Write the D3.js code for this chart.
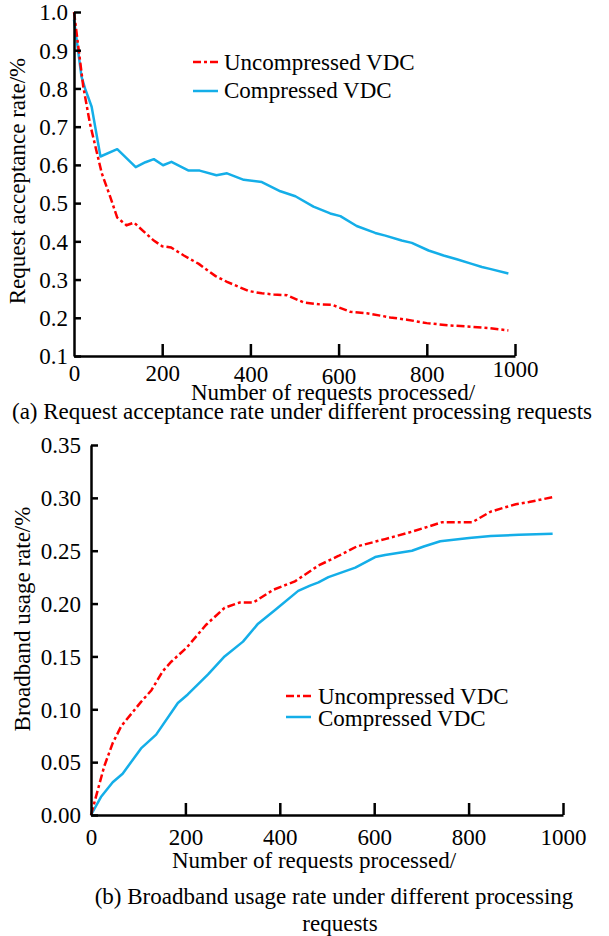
<!DOCTYPE html>
<html>
<head>
<meta charset="utf-8">
<script src="https://cdn.jsdelivr.net/npm/d3@7"></script>
<style>
  html, body { margin: 0; padding: 0; background: #fff; }
  svg { display: block; }
  text { font-family: "Liberation Serif", "Times New Roman", serif; fill: #000; }
</style>
</head>
<body>
<svg id="chart" width="609" height="936"></svg>
<script>
// ---------- DATA ----------
const seriesNames = ["Uncompressed VDC", "Compressed VDC"];

// (a) Request acceptance rate
const aUncompX = [0, 21, 36, 63, 82, 98, 119, 136, 181, 200, 220, 249, 283, 321, 347, 396, 426, 453, 483, 521, 558, 585, 626, 664, 717, 755, 800, 853, 906, 943, 985];
const aUncompY = [1.0, 0.805, 0.709, 0.578, 0.517, 0.462, 0.442, 0.449, 0.402, 0.387, 0.384, 0.363, 0.341, 0.309, 0.294, 0.270, 0.264, 0.261, 0.259, 0.240, 0.235, 0.234, 0.216, 0.212, 0.201, 0.195, 0.186, 0.180, 0.176, 0.173, 0.167];
const aCompX = [0, 17, 25, 40, 60, 98, 140, 162, 181, 202, 221, 260, 285, 323, 347, 385, 426, 468, 502, 543, 581, 604, 641, 683, 706, 743, 766, 804, 838, 868, 902, 925, 943, 985];
const aCompY = [0.98, 0.831, 0.80, 0.752, 0.622, 0.641, 0.594, 0.607, 0.615, 0.599, 0.608, 0.585, 0.585, 0.573, 0.578, 0.561, 0.555, 0.531, 0.518, 0.491, 0.473, 0.466, 0.440, 0.422, 0.415, 0.402, 0.396, 0.376, 0.363, 0.353, 0.341, 0.333, 0.328, 0.316];
const aXTicks = [0, 200, 400, 600, 800, 1000];
const aYTicks = [0.1, 0.2, 0.3, 0.4, 0.5, 0.6, 0.7, 0.8, 0.9, 1.0];

// (b) Broadband usage rate
const bUncompX = [0, 28, 46, 64, 106, 128, 152, 170, 202, 244, 283, 315, 344, 386, 432, 482, 524, 563, 623, 680, 716, 744, 808, 847, 900, 928, 981];
const bUncompY = [0, 0.046, 0.068, 0.084, 0.107, 0.118, 0.136, 0.145, 0.158, 0.180, 0.196, 0.201, 0.201, 0.213, 0.221, 0.236, 0.245, 0.254, 0.261, 0.268, 0.273, 0.277, 0.277, 0.287, 0.294, 0.296, 0.301];
const bCompX = [0, 21, 46, 67, 106, 138, 184, 205, 248, 283, 322, 354, 390, 439, 464, 482, 503, 560, 602, 623, 680, 705, 740, 801, 847, 907, 978];
const bCompY = [0, 0.017, 0.031, 0.039, 0.063, 0.076, 0.106, 0.114, 0.133, 0.150, 0.164, 0.181, 0.194, 0.212, 0.217, 0.220, 0.225, 0.234, 0.244, 0.246, 0.250, 0.254, 0.259, 0.262, 0.264, 0.265, 0.266];
const bXTicks = [0, 200, 400, 600, 800, 1000];
const bYTicks = [0, 0.05, 0.10, 0.15, 0.20, 0.25, 0.30, 0.35];

const xTitle = "Number of requests processed/";
const aYTitle = "Request acceptance rate/%";
const bYTitle = "Broadband usage rate/%";
const aCaption = "(a) Request acceptance rate under different processing requests";
const bCaption1 = "(b) Broadband usage rate under different processing";
const bCaption2 = "requests";

// ---------- STYLE ----------
const RED = "#ff0000", BLUE = "#14aee8";
const DASH = "8,3,3,3";
const FS = 23;
const svg = d3.select("#chart");

function pairs(xs, ys) { return xs.map((x, i) => [x, ys[i]]); }

function drawPanel(cfg) {
  const g = svg.append("g");
  const x = d3.scaleLinear().domain([0, 1000]).range([cfg.x0, cfg.x1]);
  const y = d3.scaleLinear().domain(cfg.yDomain).range([cfg.yBottom, cfg.yTop]);

  const line = d3.line().x(d => x(d[0])).y(d => y(d[1]));
  g.append("path").datum(pairs(cfg.compX, cfg.compY))
    .attr("d", line).attr("fill", "none").attr("stroke", BLUE)
    .attr("stroke-width", 2.5).attr("stroke-linejoin", "round");
  g.append("path").datum(pairs(cfg.uncX, cfg.uncY))
    .attr("d", line).attr("fill", "none").attr("stroke", RED)
    .attr("stroke-width", 2.5).attr("stroke-dasharray", DASH);

  const ya = g.append("g").attr("transform", `translate(${cfg.x0},0)`)
    .call(d3.axisLeft(y).tickValues(cfg.yTicks).tickFormat(cfg.yFmt)
      .tickSizeInner(-7).tickSizeOuter(0).tickPadding(cfg.yPad));
  const xa = g.append("g").attr("transform", `translate(0,${cfg.yBottom})`)
    .call(d3.axisBottom(x).tickValues(cfg.xTicks).tickFormat(d3.format("d"))
      .tickSizeInner(-12).tickSizeOuter(0));
  [ya, xa].forEach(a => {
    a.select(".domain").attr("stroke", "#000").attr("stroke-width", 2.5);
    a.selectAll(".tick line").attr("stroke", "#000").attr("stroke-width", 2.5);
    a.selectAll(".tick text").attr("font-size", FS)
      .attr("font-family", '"Liberation Serif", "Times New Roman", serif').attr("fill", "#000");
  });
  xa.selectAll(".tick").filter(d => d === 0).select("line").remove();
  ya.selectAll(".tick text").attr("dy", "0.34em");
  xa.selectAll(".tick text").attr("dy", 0)
    .attr("y", (d, i) => cfg.xLabelBase + (cfg.xNudge ? cfg.xNudge[i] : 0));

  g.append("text").attr("transform", `translate(${cfg.yTitleX},${cfg.yTitleY}) rotate(-90)`)
    .attr("text-anchor", "middle").attr("font-size", FS).text(cfg.yTitle);

  const L = cfg.legend;
  [[RED, DASH, seriesNames[0], L.y1, L.t1], [BLUE, null, seriesNames[1], L.y2, L.t2]].forEach(([c, da, name, ly, tb]) => {
    g.append("line").attr("x1", L.lx1).attr("x2", L.lx2).attr("y1", ly).attr("y2", ly)
      .attr("stroke", c).attr("stroke-width", 2.5).attr("stroke-dasharray", da);
    g.append("text").attr("x", L.tx).attr("y", tb).attr("font-size", FS).text(name);
  });
  return { x, y };
}

drawPanel({
  x0: 74, x1: 515, yTop: 12, yBottom: 356, yDomain: [0.1, 1.0],
  uncX: aUncompX, uncY: aUncompY, compX: aCompX, compY: aCompY,
  xTicks: aXTicks, yTicks: aYTicks, yFmt: d3.format(".1f"), yPad: 6,
  xLabelBase: 25, xNudge: [0, 0, 1, 3, 1, -4],
  yTitle: aYTitle, yTitleX: 25, yTitleY: 181,
  legend: { lx1: 193, lx2: 218, tx: 224, y1: 62, t1: 70, y2: 91, t2: 98 }
});

drawPanel({
  x0: 91, x1: 563, yTop: 445, yBottom: 815, yDomain: [0, 0.35],
  uncX: bUncompX, uncY: bUncompY, compX: bCompX, compY: bCompY,
  xTicks: bXTicks, yTicks: bYTicks, yFmt: d3.format(".2f"), yPad: 10,
  xLabelBase: 30,
  yTitle: bYTitle, yTitleX: 30, yTitleY: 619,
  legend: { lx1: 286, lx2: 311, tx: 318, y1: 696, t1: 704, y2: 717, t2: 726 }
});

svg.append("text").attr("x", 333).attr("y", 400).attr("text-anchor", "middle").attr("font-size", FS).text(xTitle);
svg.append("text").attr("x", 302).attr("y", 419).attr("text-anchor", "middle").attr("font-size", FS).text(aCaption);
svg.append("text").attr("x", 314).attr("y", 868).attr("text-anchor", "middle").attr("font-size", FS).text(xTitle);
svg.append("text").attr("x", 334).attr("y", 904).attr("text-anchor", "middle").attr("font-size", FS).text(bCaption1);
svg.append("text").attr("x", 340).attr("y", 931).attr("text-anchor", "middle").attr("font-size", FS).text(bCaption2);
</script>
</body>
</html>
